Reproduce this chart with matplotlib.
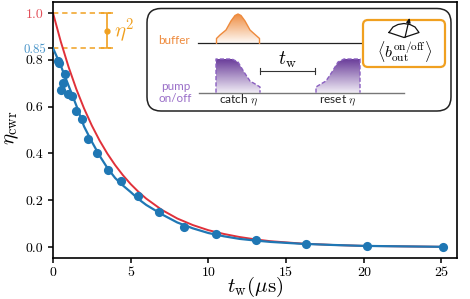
import numpy as np
import matplotlib
matplotlib.use("Agg")
import matplotlib.pyplot as plt
from matplotlib.patches import FancyBboxPatch, Polygon
from matplotlib.colors import LinearSegmentedColormap

plt.rcParams['font.family'] = ['cmr10', 'DejaVu Sans']
plt.rcParams['mathtext.fontset'] = 'cm'
plt.rcParams['axes.formatter.use_mathtext'] = True
plt.rcParams['axes.unicode_minus'] = False

# measured points
t_points = [0.37, 0.30, 0.77, 0.62, 0.52, 0.99, 1.20, 1.50, 1.85, 2.27, 2.83, 3.52,
            4.38, 5.45, 6.80, 8.42, 10.50, 13.05, 16.25, 20.20, 25.13]
eta_points = [0.785, 0.795, 0.74, 0.70, 0.67, 0.655, 0.645, 0.58, 0.547, 0.46, 0.40, 0.33,
              0.282, 0.22, 0.148, 0.087, 0.054, 0.031, 0.013, 0.006, 0.001]

# fit curves
t_curve = [0, 0.5, 1, 1.5, 2, 2.5, 3, 3.5, 4, 4.5, 5, 5.5, 6, 7, 8, 9, 10, 11, 12, 13, 14, 16, 18, 20, 22.5, 25.13]
eta_ideal = [1.0, 0.878, 0.770, 0.675, 0.592, 0.519, 0.455, 0.399, 0.350, 0.307, 0.269, 0.236,
             0.207, 0.159, 0.122, 0.094, 0.072, 0.056, 0.043, 0.033, 0.025, 0.015, 0.009, 0.005, 0.003, 0.001]
eta_fit = [0.85, 0.775, 0.69, 0.605, 0.515, 0.45, 0.39, 0.338, 0.295, 0.263, 0.235, 0.205,
           0.18, 0.14, 0.105, 0.08, 0.06, 0.046, 0.035, 0.028, 0.022, 0.014, 0.009, 0.005, 0.003, 0.001]

x_ticks = [0, 5, 10, 15, 20, 25]
x_tick_labels = ['0', '5', '10', '15', '20', '25']
y_ticks = [0.0, 0.2, 0.4, 0.6, 0.8, 0.85, 1.0]
y_tick_labels = ['0.0', '0.2', '0.4', '0.6', '0.8', '0.85', '1.0']

BLUE = '#1f77b4'
RED = '#e0313a'
ORANGE = '#f0a020'
PURPLE = '#9a6fc8'
BUF = '#ee8a3c'

W, H = 470, 299
fig = plt.figure(figsize=(W / 100, H / 100), dpi=100)
ax = fig.add_axes([53 / W, 1 - 258.3 / H, (457 - 53) / W, (258.3 - 2) / H])

ax.plot(t_curve, eta_ideal, color=RED, lw=1.4, zorder=2)
ax.plot(t_curve, eta_fit, color=BLUE, lw=1.6, zorder=3)
ax.plot(t_points, eta_points, 'o', color=BLUE, ms=6.6, mew=0, zorder=4)

ax.set_xlim(0, 26)
ax.set_ylim(-0.048, 1.047)
ax.set_xticks(x_ticks, x_tick_labels)
ax.set_yticks(y_ticks, y_tick_labels)
ax.tick_params(labelsize=10, width=1.1, length=3.5, pad=2.5)
ax.tick_params(axis='y', pad=3.5)
for lab, tick in zip(ax.get_yticklabels(), ax.yaxis.get_major_ticks()):
    txt = lab.get_text()
    if txt == '1.0':
        lab.set_color('#e2505a'); tick.tick1line.set_color(RED)
    elif txt == '0.85':
        lab.set_color('#4a95c9'); tick.tick1line.set_color(BLUE); lab.set_fontsize(9.3)
        tick.set_pad(1.5)
for s in ax.spines.values():
    s.set_linewidth(1.2)
ax.set_xlabel(r'$t_{\mathrm{w}}(\mu\mathrm{s})$', fontsize=15)
ax.xaxis.set_label_coords((255 - 53) / 404, -(287 - 258.3) / 256.3)
ax.xaxis.label.set_va('center')
ax.set_ylabel(r'$\eta_{\mathrm{cwr}}$', fontsize=15)
ax.yaxis.set_label_coords(-(53 - 12) / 404, (258.3 - 128) / 256.3)
ax.yaxis.label.set_va('center')

# eta^2 annotation
eta_top, eta_bottom, eta_mid = 1.0, 0.85, 0.925
ax.hlines([eta_top, eta_bottom], 0, 3.75, color=ORANGE, lw=1.1, ls=(0, (3.5, 2.5)), zorder=1)
ax.errorbar([3.47], [eta_mid], yerr=[0.075], color=ORANGE, marker='o', ms=3.5, lw=1.2,
            capsize=4, capthick=1.1, zorder=2)
ax.text(3.95, eta_mid, r'$\eta^2$', color=ORANGE, fontsize=15, va='center', ha='left')

# schematic overlay in pixel coordinates
ov = fig.add_axes([0, 0, 1, 1], facecolor='none')
ov.set_xlim(0, W); ov.set_ylim(H, 0); ov.axis('off')
ov.add_patch(FancyBboxPatch((147 + 14, 8.5 + 14), 304 - 28, 102.5 - 28,
                            boxstyle='round,pad=14,rounding_size=14', fc='white', ec='#222222', lw=1.1))

def grad(poly, color, top, bottom, x0, x1, alpha_low=0.15, edge_ls='-', edge_col=None):
    cmap = LinearSegmentedColormap.from_list('g', [color, matplotlib.colors.to_rgba(color, alpha_low)])
    im = ov.imshow(np.linspace(0, 1, 64).reshape(-1, 1), cmap=cmap, extent=(x0, x1, bottom, top),
                   aspect='auto', zorder=2)
    clip = Polygon(poly, closed=True, transform=ov.transData, fc='none', ec='none')
    ov.add_patch(clip)
    im.set_clip_path(clip)
    xs, ys = zip(*poly)
    ov.plot(xs, ys, color=edge_col or color, lw=1.0, ls=edge_ls, zorder=3)

ov.plot([198, 363], [43.3, 43.3], color='#222222', lw=0.9, zorder=1)
ov.plot([199, 404], [92.7, 92.7], color='#777777', lw=1.0, zorder=1)

buffer_poly = [(216.5, 43.3), (216.5, 38.5), (220, 35), (226, 30), (231, 21), (235, 15.5), (238, 14),
               (241, 15.5), (245, 21), (250, 30), (255, 34.5), (259.5, 38.5), (259.5, 43.3)]
grad(buffer_poly, BUF, 14, 43.3, 216, 260, alpha_low=0.05)

catch_poly = [(216, 92.7), (216, 59), (232, 59), (238, 62), (244, 72), (250, 81), (256, 84.5), (260, 87), (260, 92.7)]
grad(catch_poly, '#6a3d9a', 59, 92.7, 216, 260, alpha_low=0.1, edge_ls=(0, (3, 1.5)), edge_col='#8a5fc0')
reset_poly = [(316, 92.7), (316, 87), (320, 84.5), (326, 81), (332, 72), (338, 62), (344, 59), (360, 59), (360, 92.7)]
grad(reset_poly, '#6a3d9a', 59, 92.7, 316, 360, alpha_low=0.1, edge_ls=(0, (3, 1.5)), edge_col='#8a5fc0')
ov.set_xlim(0, W); ov.set_ylim(H, 0)

# t_w bracket
ov.plot([259.5, 315], [70.7, 70.7], color='#333333', lw=0.8)
ov.plot([259.5, 259.5], [68, 73.5], color='#333333', lw=0.8)
ov.plot([315, 315], [68, 73.5], color='#333333', lw=0.8)
ov.text(287.5, 60, r'$t_{\mathrm{w}}$', fontsize=14, ha='center', va='center')

sans = ['Lato', 'DejaVu Sans']
ov.text(174, 41, 'buffer', color=BUF, fontsize=8.4, family=sans, ha='center', va='center')
ov.text(175.5, 86, 'pump', color=PURPLE, fontsize=8.4, family=sans, ha='center', va='center')
ov.text(175.5, 99, 'on/off', color=PURPLE, fontsize=8.4, family=sans, ha='center', va='center')
ov.text(238.5, 100.5, 'catch $\\eta$', color='#222222', fontsize=8.6, family=sans, ha='center', va='center')
ov.text(338, 100.5, 'reset $\\eta$', color='#222222', fontsize=8.6, family=sans, ha='center', va='center')

# readout box
ov.add_patch(FancyBboxPatch((363 + 5, 20 + 5), 82 - 10, 47 - 10, boxstyle='round,pad=5,rounding_size=5',
                            fc='white', ec=ORANGE, lw=1.6, zorder=4))
arc_x = np.array([389, 393, 398, 404, 410, 415, 419, 404, 389])
arc_y = np.array([32.5, 27, 24.5, 23.5, 24.5, 27, 32.5, 37.5, 32.5])
ov.plot(arc_x, arc_y, color='#111111', lw=0.9, zorder=5)
ov.annotate('', xy=(409.5, 18), xytext=(405, 37.5),
            arrowprops=dict(arrowstyle='-|>,head_width=0.12,head_length=0.25', color='#111111', lw=0.9,
                            shrinkA=0, shrinkB=0), zorder=5)
ov.text(404.5, 52, r'$\langle b_{\mathrm{out}}^{\mathrm{on/off}}\rangle$', fontsize=11.5,
        ha='center', va='center', zorder=5)

fig.savefig('out.png', dpi=100)
